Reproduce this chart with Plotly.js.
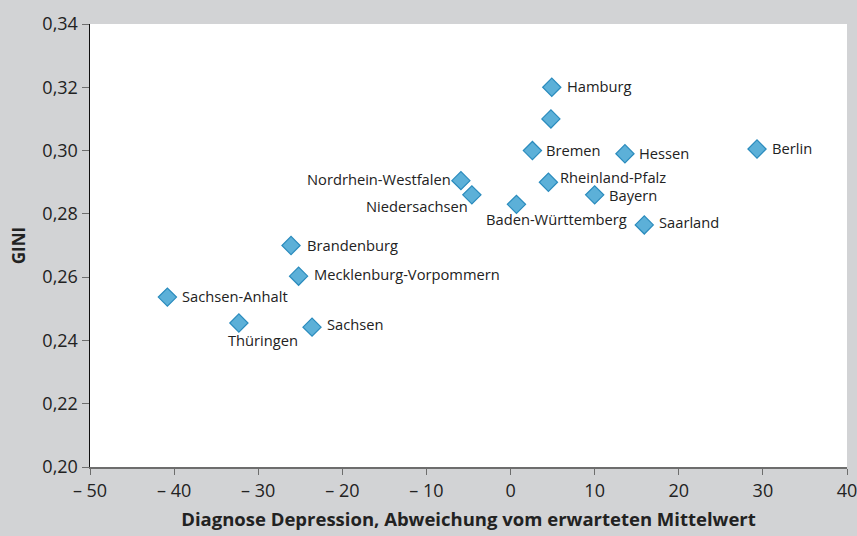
<!DOCTYPE html>
<html><head><meta charset="utf-8">
<script src="https://cdn.plot.ly/plotly-3.0.1.min.js"></script>
<style>html,body{margin:0;padding:0;background:#d2d3d5;}#chart{width:857px;height:536px;}</style>
</head><body><div id="chart"></div>
<script>
const states = ["Hamburg","","Bremen","Hessen","Berlin","Nordrhein-Westfalen","Rheinland-Pfalz","Niedersachsen","Bayern","Baden-Württemberg","Saarland","Brandenburg","Mecklenburg-Vorpommern","Sachsen-Anhalt","Thüringen","Sachsen"];
const depression = [4.9, 4.8, 2.6, 13.6, 29.3, -5.9, 4.5, -4.6, 10.0, 0.7, 15.9, -26.1, -25.2, -40.8, -32.3, -23.6];
const gini = [0.320, 0.310, 0.300, 0.299, 0.3005, 0.2905, 0.290, 0.286, 0.286, 0.283, 0.2765, 0.270, 0.2603, 0.2537, 0.2455, 0.2442];
// label placement: [xanchor, xshift, yshift]
const labelAnchor = ["left","left","left","left","left","right","left","right","left","center","left","left","left","left","center","left"];
const labelDx = [13, 0, 12, 12, 13, -8, 10, -2, 12, 40, 13, 14, 13, 13, 24, 13];
const labelDy = [1, 0, 1, 1, 1, 2, 5, -11, 0, -15, 3, 1, 2, 1, -17, 3];
const xTicks = [-50,-40,-30,-20,-10,0,10,20,30,40];
const xTickText = ["– 50","– 40","– 30","– 20","– 10","0","10","20","30","40"];
const yTicks = [0.20,0.22,0.24,0.26,0.28,0.30,0.32,0.34];
const yTickText = ["0,20","0,22","0,24","0,26","0,28","0,30","0,32","0,34"];

const trace = {
  x: depression, y: gini, mode: "markers", type: "scatter",
  marker: {symbol: "diamond", size: 14, color: "#5cb0d8", line: {color: "#2a8bbd", width: 1.2}},
  cliponaxis: false, hoverinfo: "skip"
};
const annotations = states.map((s, i) => ({
  x: depression[i], y: gini[i], text: s, showarrow: false,
  xanchor: labelAnchor[i], yanchor: "middle", xshift: labelDx[i], yshift: labelDy[i],
  font: {family: "Open Sans, Noto Sans, sans-serif", size: 14.7, color: "#222"}
})).filter(a => a.text !== "");
const layout = {
  width: 857, height: 536,
  margin: {l: 90, r: 10, t: 24, b: 69},
  paper_bgcolor: "#d2d3d5", plot_bgcolor: "#ffffff",
  showlegend: false,
  font: {family: "Open Sans, Noto Sans, sans-serif", color: "#222"},
  annotations: annotations,
  xaxis: {
    range: [-50, 40], tickvals: xTicks, ticktext: xTickText,
    showgrid: false, zeroline: false, showline: true, linecolor: "#6d6d6d", linewidth: 2,
    ticks: "outside", ticklen: 6, tickcolor: "#6d6d6d", tickwidth: 1,
    ticklabeloverflow: "allow",
    tickfont: {size: 18, color: "#222"},
    title: {text: "<b>Diagnose Depression, Abweichung vom erwarteten Mittelwert</b>", font: {size: 18.5, color: "#222"}, standoff: 12}
  },
  yaxis: {
    range: [0.20, 0.34], tickvals: yTicks, ticktext: yTickText,
    showgrid: false, zeroline: false, showline: true, linecolor: "#111", linewidth: 1.5,
    ticks: "outside", ticklen: 7, tickcolor: "#6d6d6d", tickwidth: 1,
    tickfont: {size: 18, color: "#222"},
    title: {text: "<b>GINI</b>", font: {size: 17, color: "#222"}, standoff: 12}
  }
};
Plotly.newPlot("chart", [trace], layout, {staticPlot: true, displayModeBar: false});
</script></body></html>
